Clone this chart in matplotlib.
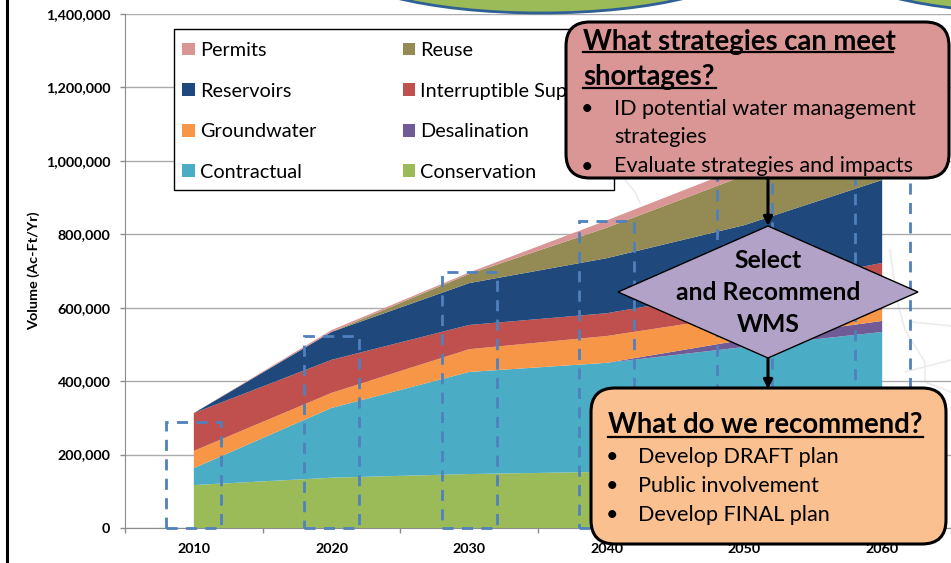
import numpy as np
import matplotlib
matplotlib.use("Agg")
import matplotlib.pyplot as plt
from matplotlib.patches import Rectangle, FancyBboxPatch, Polygon, Ellipse

plt.rcParams['font.family'] = ['Lato', 'DejaVu Sans']

years = [2010, 2020, 2030, 2040, 2050, 2060]
conservation = [117000, 137000, 147000, 153000, 165000, 175000]
contractual = [46000, 190000, 278000, 297000, 328000, 359000]
desalination = [0, 0, 0, 0, 20000, 30000]
groundwater = [47000, 41000, 62000, 73000, 67000, 30000]
interruptible = [103000, 90000, 66000, 62000, 70000, 128000]
reservoirs = [0, 76000, 114000, 150000, 175000, 226000]
reuse = [0, 0, 25000, 83000, 135000, 132000]
permits = [0, 5000, 4000, 20000, 25000, 50000]
projected_demand = [290000, 523000, 697000, 835000, 1000000, 1180000]

series = [conservation, contractual, desalination, groundwater,
          interruptible, reservoirs, reuse, permits]
names = ['Conservation', 'Contractual', 'Desalination', 'Groundwater',
         'Interruptible Supply', 'Reservoirs', 'Reuse', 'Permits']
colors = ['#9BBB59', '#4BACC6', '#705B97', '#F79646',
          '#C0504D', '#1F497D', '#948A54', '#D99694']
legend_order = ['Permits', 'Reservoirs', 'Groundwater', 'Contractual',
                'Reuse', 'Interruptible Supply', 'Desalination', 'Conservation']

W, H = 951, 563
fig = plt.figure(figsize=(W / 100, H / 100), dpi=100, facecolor='white')

L, R, T, B = 125, 951, 14, 528
ax = fig.add_axes([L / W, 1 - B / H, (R - L) / W, (B - T) / H])
ax.set_xlim(2005, 2065)
ax.set_ylim(0, 1400000)
ax.set_facecolor('none')

ov = fig.add_axes([0, 0, 1, 1], zorder=10)
ov.set_xlim(0, W)
ov.set_ylim(H, 0)
ov.axis('off')
ov.patch.set_alpha(0)

# chart
polys = ax.stackplot(years, *series, colors=colors, labels=names, zorder=3, linewidth=0)
ax.set_yticks(np.arange(0, 1400001, 200000))
ax.set_yticklabels([f'{v:,}' for v in range(0, 1400001, 200000)],
                   fontsize=10.3, fontweight='bold')
ax.set_xticks(np.arange(2005, 2066, 10))
ax.set_xticklabels([])
ax.set_xticks(years, minor=True)
ax.set_xticklabels([str(y) for y in years], minor=True, fontsize=10.3, fontweight='bold')
ax.tick_params(axis='x', which='minor', length=0, pad=10.5)
ax.tick_params(axis='x', which='major', length=3.6, color='#8c8c8c', width=1)
ax.tick_params(axis='y', length=3.6, color='#8c8c8c', width=1, pad=7)
ax.grid(axis='y', color='#ababab', lw=1, zorder=1)
ax.set_axisbelow(True)
for s in ('top', 'right'):
    ax.spines[s].set_visible(False)
for s in ('left', 'bottom'):
    ax.spines[s].set_color('#8c8c8c')
ax.set_ylabel('Volume (Ac-Ft/Yr)', fontsize=10.4, fontweight='bold')
ax.yaxis.set_label_coords((40 - L) / (R - L), (B - 271) / (B - T))

# target dashed boxes
for y, v in zip(years, projected_demand):
    ax.add_patch(Rectangle((y - 2, 0), 4, v, fill=False, ec='#4F81BD', lw=2,
                           ls=(0, (4, 3)), zorder=4, clip_on=False))

# faint map traces behind the chart
for xs, ys in [([890, 897, 905, 925, 925, 951], [250, 300, 330, 362, 382, 392]),
               ([905, 951], [372, 360]), ([625, 635, 640], [180, 192, 203]),
               ([912, 951], [322, 326])]:
    ax.plot(np.array(xs) * 60 / 826 + 2005 - 125 * 60 / 826,
            (528 - np.array(ys)) * 1400000 / 514, color='#ececec', lw=1.2, zorder=0.5)

# legend
ax.add_patch(Rectangle((174, 29), 440, 161, transform=ov.transData, fc='white',
                       ec='black', lw=1, zorder=5, clip_on=False))
handles = {p.get_label(): p for p in polys}
leg = ax.legend([handles[n] for n in legend_order], legend_order, ncols=2,
                loc='upper left', bbox_to_anchor=(178.5 / W, 1 - 38 / H),
                bbox_transform=fig.transFigure, frameon=False, fontsize=14.3,
                handlelength=0.62, handleheight=0.62, handletextpad=0.25,
                labelspacing=1.19, columnspacing=4.37, borderpad=0.2, borderaxespad=0)
leg.set_zorder(6)

# overlay shapes
for cx in (541, 1040):
    ov.add_patch(Ellipse((cx, -40), 414, 106, fc='#9BBB59', ec='#2F6095', lw=2, zorder=1))


def box(x0, y0, x1, y1, color):
    ov.add_patch(FancyBboxPatch((x0, y0), x1 - x0, y1 - y0,
                                boxstyle='round,pad=0,rounding_size=24',
                                fc=color, ec='black', lw=2.2, zorder=2))


def arrow(y0, y1):
    ov.annotate('', xy=(768, y1), xytext=(768, y0), zorder=2,
                arrowprops=dict(arrowstyle='-|>', color='black', lw=2.2,
                                mutation_scale=13, shrinkA=0, shrinkB=0))


box(566, 22, 949, 178, '#D99694')
box(591, 388, 946, 544, '#FAC090')
arrow(178, 226)
arrow(358, 389)
ov.add_patch(Polygon([(768, 226), (918, 292), (768, 358), (618, 292)],
                     closed=True, fc='#B3A2C7', ec='black', lw=1, zorder=3))

tkw = dict(va='baseline', ha='left', color='black', zorder=4)
tfs, bfs = 19.8, 15.6
for x, y, s, x1, uy in [(583, 50, 'What strategies can meet', 893, 52),
                        (583, 85, 'shortages?', 716, 88),
                        (608, 433, 'What do we recommend?', 923, 436.5)]:
    ov.text(x, y, s, fontsize=tfs, fontweight='bold', **tkw)
    ov.plot([x, x1], [uy, uy], color='black', lw=1.6, zorder=4)

for bx, tx, y, s, bullet in [
        (587, 614, 115, 'ID potential water management', True),
        (587, 614, 143, 'strategies', False),
        (587, 614, 172.5, 'Evaluate strategies and impacts', True),
        (612, 638, 463, 'Develop DRAFT plan', True),
        (612, 638, 492, 'Public involvement', True),
        (612, 638, 521, 'Develop FINAL plan', True)]:
    if bullet:
        ov.text(bx, y, '•', fontsize=bfs, va='baseline', ha='center', zorder=4)
    ov.text(tx, y, s, fontsize=bfs, **tkw)

for y, s in [(268, 'Select'), (300.5, 'and Recommend'), (332.5, 'WMS')]:
    ov.text(768, y, s, fontsize=17.8, fontweight='bold', va='baseline', ha='center', zorder=4)

# black slide edge at left
ov.plot([7, 7], [0, H], color='black', lw=2.2, zorder=5)

fig.savefig('out.png', dpi=100)
